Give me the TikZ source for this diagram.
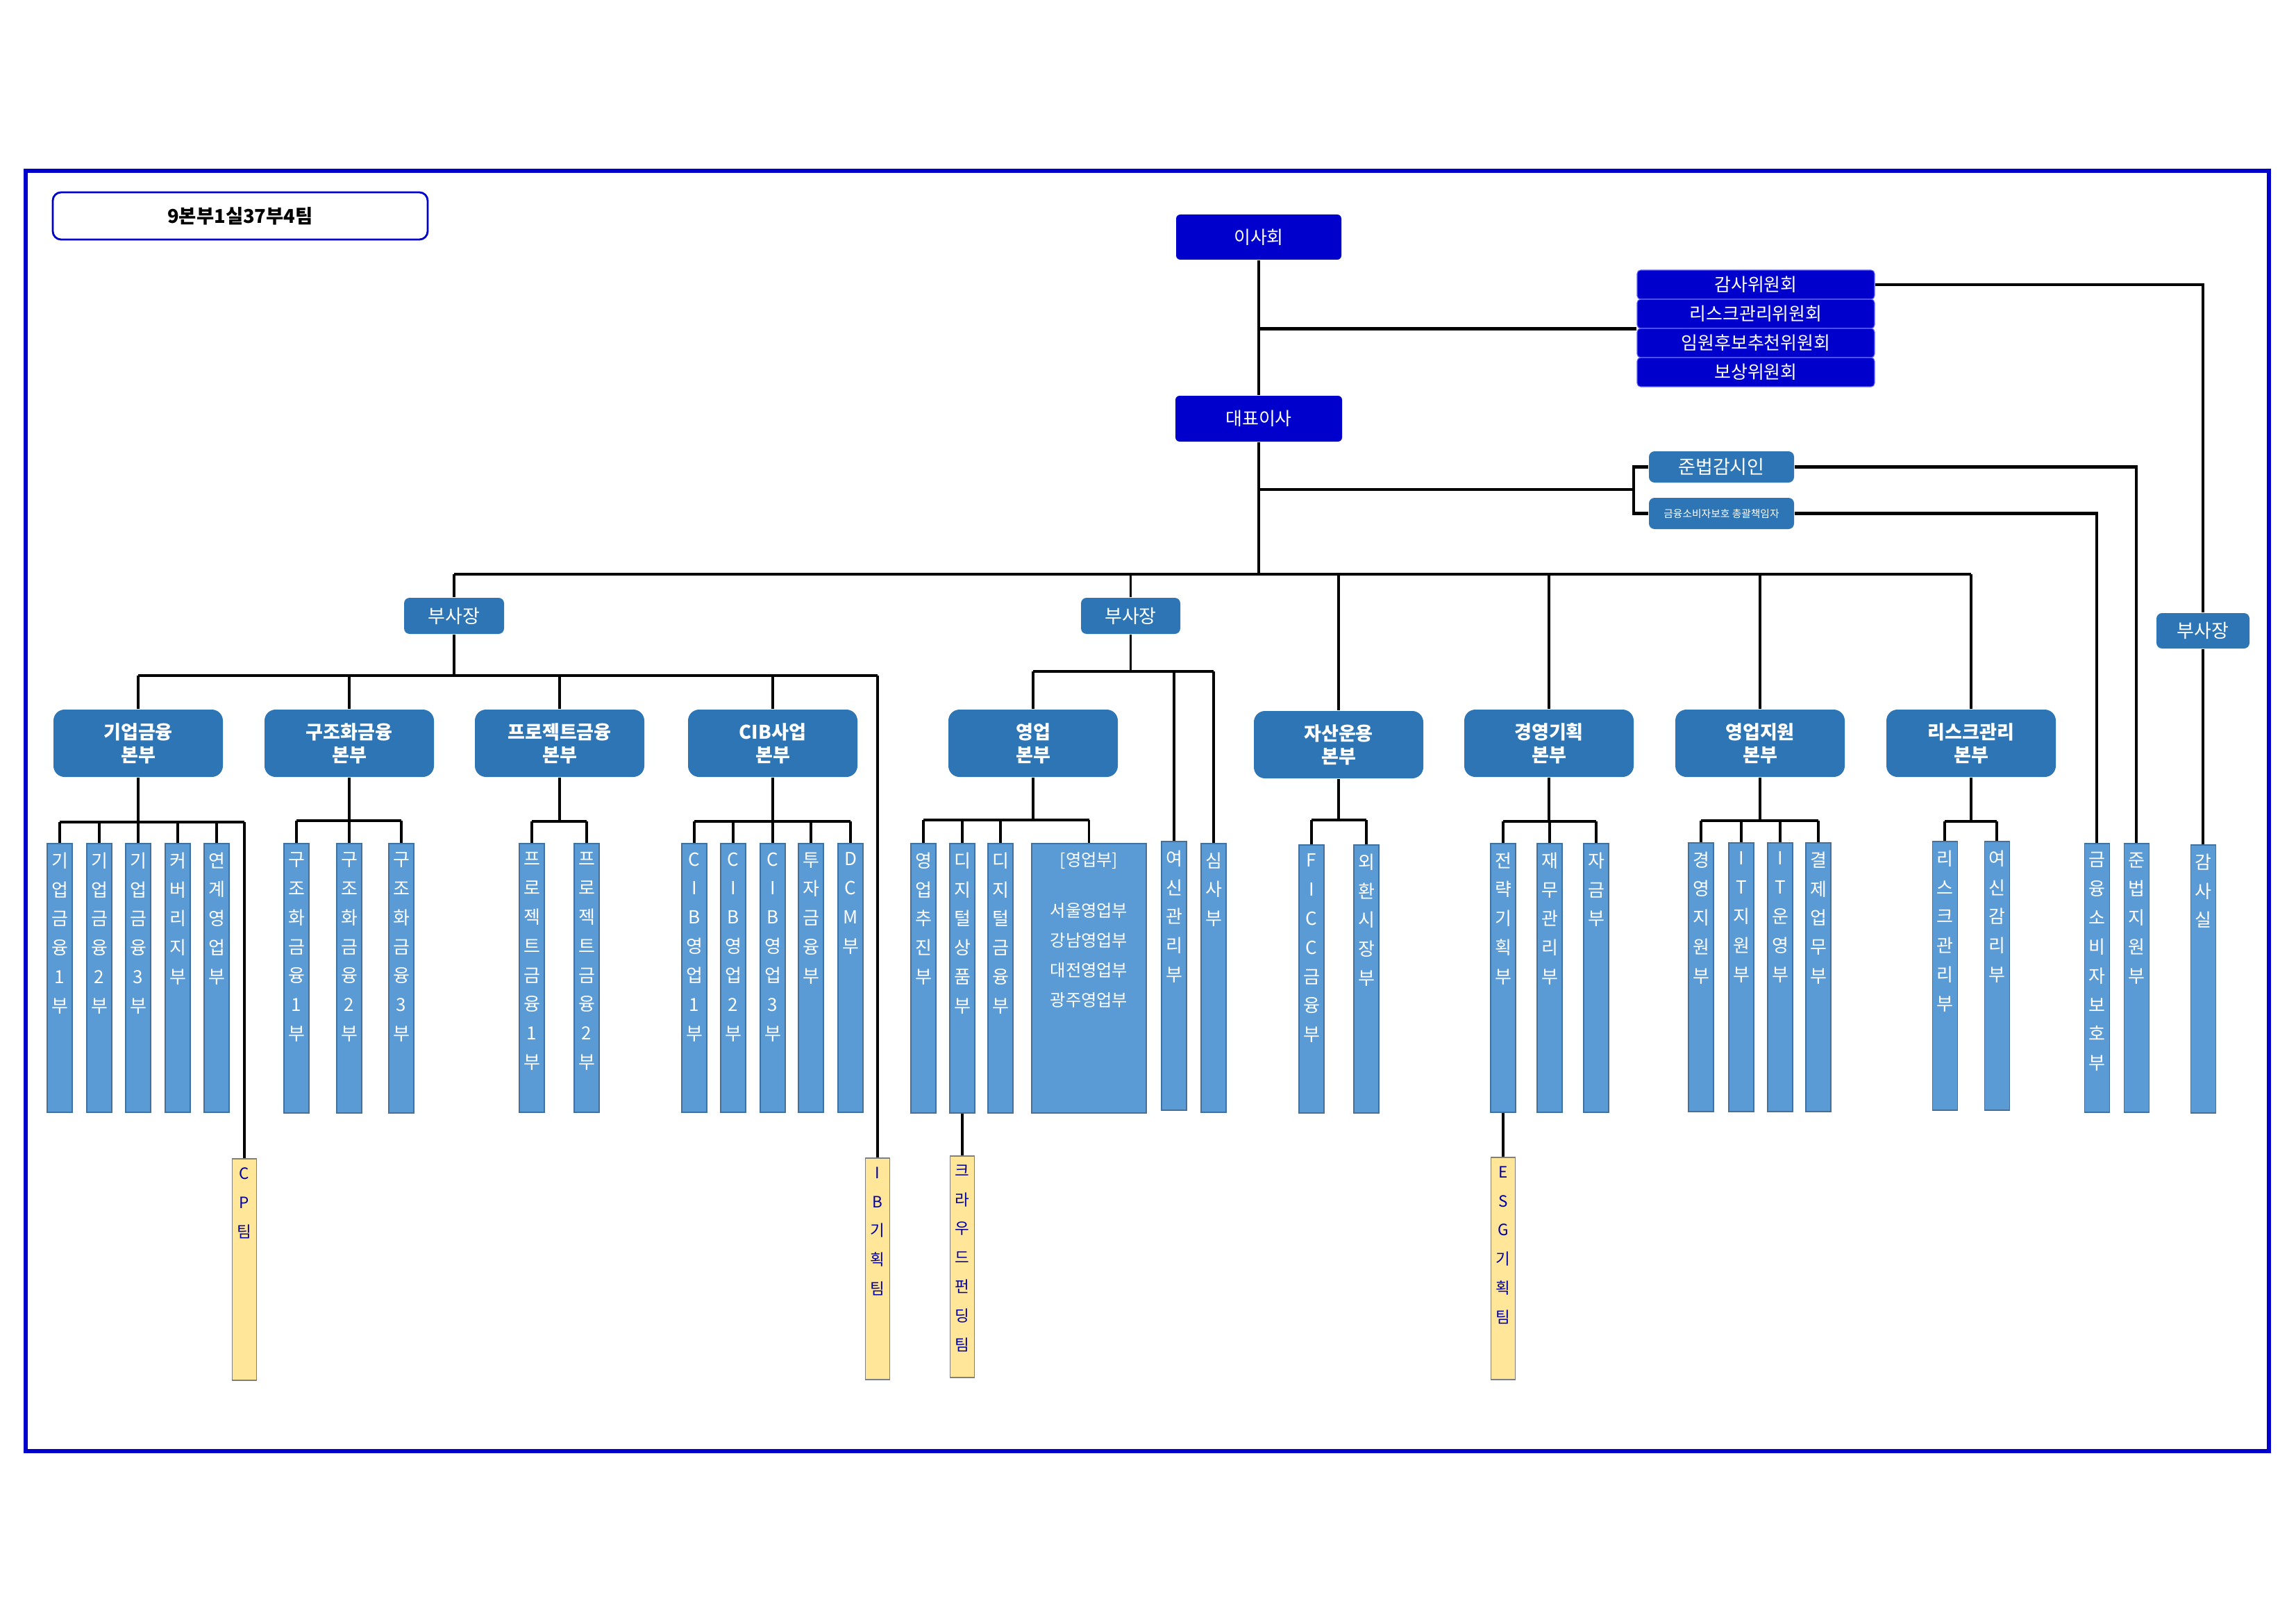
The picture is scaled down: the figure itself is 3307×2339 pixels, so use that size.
\documentclass[tikz,border=0pt]{standalone}
\usepackage{fontspec}
\setmainfont{Noto Sans CJK KR}
\usetikzlibrary{calc}
\definecolor{dkblue}{RGB}{0,0,204}
\definecolor{stblue}{RGB}{46,117,182}
\definecolor{colblue}{RGB}{91,155,213}
\definecolor{colline}{RGB}{65,113,156}
\definecolor{yel}{RGB}{255,230,153}
\definecolor{yelline}{RGB}{127,127,127}
\definecolor{teamtxt}{RGB}{0,0,160}
\newcommand\colnode[7]{%
  \node[#6, minimum width={#5*0.1mm}, minimum height={(#4-#3)*0.1mm}] (#1) at (#2,{(#3+#4)/2}) {};
  \node[#6text, anchor=north] (#1t) at ([yshift=-1.25mm]#1.north) {#7};
}
\begin{document}
\begin{tikzpicture}[x=0.1mm,y=-0.1mm,
  conn/.style={draw=black, line width=0.9pt},
  busline/.style={draw=black, line width=1.3pt},
  framestyle/.style={draw=dkblue, line width=1.6pt},
  titlebox/.style={draw=dkblue, line width=0.8pt, fill=white, rounded corners=1.2mm,
     minimum width=54mm, minimum height=6.8mm, inner sep=0pt,
     font=\fontsize{7.8}{9}\selectfont\bfseries},
  topbox/.style={fill=dkblue, rounded corners=0.6mm, text=white, inner sep=0pt,
     font=\fontsize{7.4}{9}\selectfont},
  cmtbox/.style={fill=dkblue, draw=blue!60!white, line width=0.3pt, rounded corners=0.5mm,
     text=white, inner sep=0pt, minimum width=34.2mm, minimum height=4.2mm,
     font=\fontsize{7.4}{9}\selectfont},
  vpbox/.style={fill=stblue, rounded corners=0.8mm, text=white, inner sep=0pt,
     font=\fontsize{7.7}{9}\selectfont},
  divbox/.style={fill=stblue, rounded corners=1.6mm, text=white, inner sep=0pt, align=center,
     minimum width=24.4mm, minimum height=9.7mm,
     font=\fontsize{7.7}{9.4}\selectfont\bfseries},
  colbox/.style={fill=colblue, draw=colline, line width=0.3pt, inner sep=0pt},
  colboxtext/.style={text=white, align=center, inner sep=0pt,
     font=\fontsize{7.4}{11.9}\selectfont},
  widebox/.style={fill=colblue, draw=colline, line width=0.3pt, inner sep=0pt},
  wideboxtext/.style={text=white, align=center, inner sep=0pt,
     font=\fontsize{6.9}{12.2}\selectfont},
  teambox/.style={fill=yel, draw=yelline, line width=0.3pt, inner sep=0pt},
  teamboxtext/.style={text=teamtxt, align=center, inner sep=0pt,
     font=\fontsize{6.4}{11.9}\selectfont}
]
\useasboundingbox (0,0) rectangle (3307,2339);
\fill[white] (0,0) rectangle (3307,2339);
\draw[framestyle] (37,246) rectangle (3268,2090);

% ---- top level ----
\node[titlebox] (title) at (346,311) {9본부1실37부4팀};
\node[topbox, minimum width=23.8mm, minimum height=6.5mm] (board) at (1813,341.5) {이사회};
\node[topbox, minimum width=24mm, minimum height=6.6mm] (ceo) at (1813,603) {대표이사};
\node[cmtbox] (cm1) at (2529,410) {감사위원회};
\node[cmtbox] (cm2) at (2529,452) {리스크관리위원회};
\node[cmtbox] (cm3) at (2529,494) {임원후보추천위원회};
\node[cmtbox] (cm4) at (2529,536) {보상위원회};
\node[vpbox, minimum width=20.9mm, minimum height=4.5mm] (comp) at (2479.5,672.5) {준법감시인};
\node[vpbox, minimum width=20.9mm, minimum height=4.5mm, font=\fontsize{4.2}{5}\selectfont] (cons) at (2479.5,739.5) {금융소비자보호 총괄책임자};
\node[vpbox, minimum width=14.4mm, minimum height=5.2mm] (vpL) at (654,887) {부사장};
\node[vpbox, minimum width=14.3mm, minimum height=5.2mm] (vpM) at (1628.5,887) {부사장};
\node[vpbox, minimum width=13.4mm, minimum height=5.1mm] (vpR) at (3173,908.5) {부사장};

% ---- divisions ----
\node[divbox] (d1) at (199,1070.5) {기업금융\\본부};
\node[divbox] (d2) at (503,1070.5) {구조화금융\\본부};
\node[divbox] (d3) at (806,1070.5) {프로젝트금융\\본부};
\node[divbox] (d4) at (1113,1070.5) {CIB사업\\본부};
\node[divbox] (d5) at (1488,1070.5) {영업\\본부};
\node[divbox] (d6) at (1928,1072.5) {자산운용\\본부};
\node[divbox] (d7) at (2231,1070.5) {경영기획\\본부};
\node[divbox] (d8) at (2535,1070.5) {영업지원\\본부};
\node[divbox] (d9) at (2839,1070.5) {리스크관리\\본부};

% ---- departments ----
\colnode{k1}{86}{1215}{1602}{36}{colbox}{기\\업\\금\\융\\1\\부}
\colnode{k2}{143}{1215}{1602}{36}{colbox}{기\\업\\금\\융\\2\\부}
\colnode{k3}{199}{1215}{1602}{36}{colbox}{기\\업\\금\\융\\3\\부}
\colnode{k4}{256}{1215}{1602}{36}{colbox}{커\\버\\리\\지\\부}
\colnode{k5}{312}{1215}{1602}{36}{colbox}{연\\계\\영\\업\\부}

\colnode{g1}{427}{1215}{1603}{36}{colbox}{구\\조\\화\\금\\융\\1\\부}
\colnode{g2}{503}{1215}{1603}{36}{colbox}{구\\조\\화\\금\\융\\2\\부}
\colnode{g3}{578}{1215}{1603}{36}{colbox}{구\\조\\화\\금\\융\\3\\부}

\colnode{p1}{766}{1215}{1602}{36}{colbox}{프\\로\\젝\\트\\금\\융\\1\\부}
\colnode{p2}{845}{1215}{1602}{36}{colbox}{프\\로\\젝\\트\\금\\융\\2\\부}

\colnode{c1}{1000}{1215}{1602}{36}{colbox}{C\\I\\B\\영\\업\\1\\부}
\colnode{c2}{1056}{1215}{1602}{36}{colbox}{C\\I\\B\\영\\업\\2\\부}
\colnode{c3}{1113}{1215}{1602}{36}{colbox}{C\\I\\B\\영\\업\\3\\부}
\colnode{c4}{1168}{1215}{1602}{36}{colbox}{투\\자\\금\\융\\부}
\colnode{c5}{1225}{1215}{1602}{36}{colbox}{D\\C\\M\\부}

\colnode{y1}{1330}{1215}{1603}{36}{colbox}{영\\업\\추\\진\\부}
\colnode{y2}{1386}{1215}{1603}{36}{colbox}{디\\지\\털\\상\\품\\부}
\colnode{y3}{1441}{1215}{1603}{36}{colbox}{디\\지\\털\\금\\융\\부}
\colnode{y4}{1568.5}{1215}{1603}{165}{widebox}{[영업부]\\[3mm]서울영업부\\강남영업부\\대전영업부\\광주영업부}
\colnode{yg}{1691}{1212}{1599}{36}{colbox}{여\\신\\관\\리\\부}
\colnode{ss}{1748}{1215}{1602}{36}{colbox}{심\\사\\부}

\colnode{a1}{1889}{1217}{1603}{36}{colbox}{F\\I\\C\\C\\금\\융\\부}
\colnode{a2}{1968}{1217}{1603}{36}{colbox}{외\\환\\시\\장\\부}

\colnode{e1}{2165}{1215}{1602}{36}{colbox}{전\\략\\기\\획\\부}
\colnode{e2}{2232}{1215}{1602}{36}{colbox}{재\\무\\관\\리\\부}
\colnode{e3}{2299}{1215}{1602}{36}{colbox}{자\\금\\부}

\colnode{s1}{2450}{1214}{1601}{36}{colbox}{경\\영\\지\\원\\부}
\colnode{s2}{2508}{1214}{1601}{36}{colbox}{I\\T\\지\\원\\부}
\colnode{s3}{2564}{1214}{1601}{36}{colbox}{I\\T\\운\\영\\부}
\colnode{s4}{2619}{1214}{1601}{36}{colbox}{결\\제\\업\\무\\부}

\colnode{r1}{2801}{1212}{1599}{36}{colbox}{리\\스\\크\\관\\리\\부}
\colnode{r2}{2876}{1212}{1599}{36}{colbox}{여\\신\\감\\리\\부}

\colnode{fc}{3020}{1215}{1602}{36}{colbox}{금\\융\\소\\비\\자\\보\\호\\부}
\colnode{jb}{3077}{1215}{1602}{36}{colbox}{준\\법\\지\\원\\부}
\colnode{gs}{3173}{1217}{1603}{36}{colbox}{감\\사\\실}

% ---- teams ----
\colnode{cp}{352}{1669}{1988}{35}{teambox}{C\\P\\팀}
\colnode{ib}{1264}{1668}{1987}{35}{teambox}{I\\B\\기\\획\\팀}
\colnode{cf}{1386}{1665}{1984}{35}{teambox}{크\\라\\우\\드\\펀\\딩\\팀}
\colnode{esg}{2165}{1667}{1987}{35}{teambox}{E\\S\\G\\기\\획\\팀}

% ---- connectors: top ----
\draw[conn] (board) -- (ceo);
\draw[busline] (board.south |- cm2.south west) -- (cm2.south west);
\draw[conn] (cm1.east) -| (vpR.north);
\draw[conn] (vpR.south) -- (gs.north);
\coordinate (bus) at (1813,827);
\draw[conn] (ceo.south) -- (bus);
\draw[busline] (vpL.north |- bus) -- (d9.north |- bus);
\draw[conn] (vpL.north) -- (vpL.north |- bus);
\foreach \n in {vpM,d6,d7,d8,d9} \draw[conn] (\n.north) -- (\n.north |- bus);
\coordinate (br) at (2353,705);
\draw[busline] (ceo.south |- br) -- (br);
\draw[busline] (comp.west) -| (br) |- (cons.west);
\draw[busline] (comp.east) -| (jb.north);
\draw[busline] (cons.east) -| (fc.north);

% ---- left VP ----
\coordinate (bL) at (654,973);
\draw[conn] (vpL.south) -- (bL);
\draw[busline] (d1.north |- bL) -- (ib.north |- bL);
\draw[conn] (ib.north |- bL) -- (ib.north);
\foreach \n in {d1,d2,d3,d4} \draw[conn] (\n.north) -- (\n.north |- bL);

% ---- middle VP ----
\coordinate (bM) at (1628.5,967);
\draw[conn] (vpM.south) -- (bM);
\draw[busline] (d5.north |- bM) -- (ss.north |- bM);
\draw[conn] (d5.north) -- (d5.north |- bM);
\draw[conn] (yg.north |- bM) -- (yg.north);
\draw[conn] (ss.north |- bM) -- (ss.north);

% ---- sub buses ----
\coordinate (sb1) at (199,1184);
\draw[conn] (d1.south) -- (sb1);
\draw[busline] (k1.north |- sb1) -- (cp.north |- sb1);
\draw[conn] (cp.north |- sb1) -- (cp.north);
\foreach \n in {k1,k2,k3,k4,k5} \draw[conn] (\n.north) -- (\n.north |- sb1);

\coordinate (sb2) at (503,1182);
\draw[conn] (d2.south) -- (sb2);
\draw[busline] (g1.north |- sb2) -- (g3.north |- sb2);
\foreach \n in {g1,g2,g3} \draw[conn] (\n.north) -- (\n.north |- sb2);

\coordinate (sb3) at (806,1183);
\draw[conn] (d3.south) -- (sb3);
\draw[busline] (p1.north |- sb3) -- (p2.north |- sb3);
\foreach \n in {p1,p2} \draw[conn] (\n.north) -- (\n.north |- sb3);

\coordinate (sb4) at (1113,1183);
\draw[conn] (d4.south) -- (sb4);
\draw[busline] (c1.north |- sb4) -- (c5.north |- sb4);
\foreach \n in {c1,c2,c3,c4,c5} \draw[conn] (\n.north) -- (\n.north |- sb4);

\coordinate (sb5) at (1488,1181);
\draw[conn] (d5.south) -- (sb5);
\draw[busline] (y1.north |- sb5) -- (y4.north |- sb5);
\foreach \n in {y1,y2,y3,y4} \draw[conn] (\n.north) -- (\n.north |- sb5);

\coordinate (sb6) at (1928,1181);
\draw[conn] (d6.south) -- (sb6);
\draw[busline] (a1.north |- sb6) -- (a2.north |- sb6);
\foreach \n in {a1,a2} \draw[conn] (\n.north) -- (\n.north |- sb6);

\coordinate (sb7) at (2231,1183);
\draw[conn] (d7.south) -- (sb7);
\draw[busline] (e1.north |- sb7) -- (e3.north |- sb7);
\foreach \n in {e1,e2,e3} \draw[conn] (\n.north) -- (\n.north |- sb7);

\coordinate (sb8) at (2535,1182);
\draw[conn] (d8.south) -- (sb8);
\draw[busline] (s1.north |- sb8) -- (s4.north |- sb8);
\foreach \n in {s1,s2,s3,s4} \draw[conn] (\n.north) -- (\n.north |- sb8);

\coordinate (sb9) at (2839,1183);
\draw[conn] (d9.south) -- (sb9);
\draw[busline] (r1.north |- sb9) -- (r2.north |- sb9);
\foreach \n in {r1,r2} \draw[conn] (\n.north) -- (\n.north |- sb9);

% ---- teams ----
\draw[conn] (y2.south) -- (cf.north);
\draw[conn] (e1.south) -- (esg.north);
\end{tikzpicture}
\end{document}
